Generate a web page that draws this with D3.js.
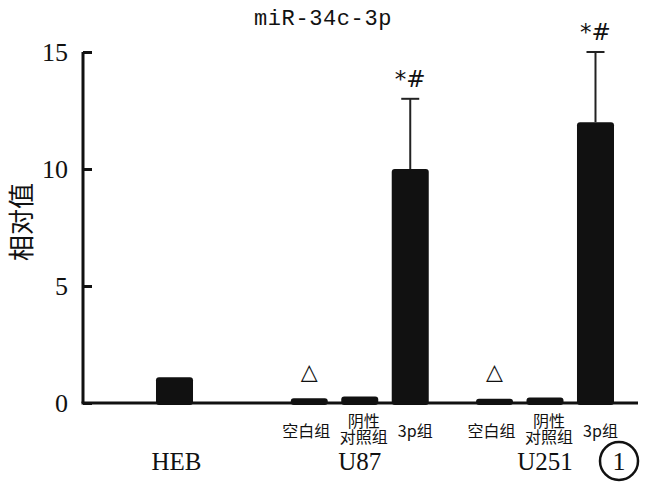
<!DOCTYPE html>
<html>
<head>
<meta charset="utf-8">
<script src="https://cdn.jsdelivr.net/npm/d3@7"></script>
<style>
  body { margin: 0; background: #fff; }
  text { fill: #111; }
</style>
</head>
<body>
<div id="chart"></div>
<script>
// chart data
const groups = ["HEB", "U87", "U251"];
const subgroups = ["空白组", "阴性对照组", "3p组"];
const barGroups = ["HEB", "U87", "U87", "U87", "U251", "U251", "U251"];
const barSubs = ["", "空白组", "阴性对照组", "3p组", "空白组", "阴性对照组", "3p组"];
const barValues = [1.1, 0.2, 0.28, 10, 0.18, 0.24, 12];
const barErrors = [0, 0, 0, 3, 0, 0, 3];
const barMarks = ["", "△", "", "*#", "△", "", "*#"];
const yTicks = [0, 5, 10, 15];

const width = 647, height = 496;
const margin = { top: 52, left: 83, right: 9, bottom: 93 };

const svg = d3.select("#chart")
    .append("svg")
    .attr("width", width)
    .attr("height", height);

const yScale = d3.scaleLinear().domain([0, 15]).range([height - margin.bottom, margin.top]);
const xOuter = d3.scalePoint().domain(groups).range([174.5, 545]);
const xInner = d3.scaleBand().domain(subgroups).range([-69, 69]).paddingInner(0.267);
const bw = xInner.bandwidth();

function barCenter(i) {
    const c = xOuter(barGroups[i]);
    return barSubs[i] ? c + xInner(barSubs[i]) + bw / 2 : c;
}

const bars = barValues.map((v, i) => ({ v, i }));

// bars
svg.selectAll(".bar")
    .data(bars)
    .enter().append("rect")
    .attr("class", "bar")
    .attr("x", d => barCenter(d.i) - bw / 2)
    .attr("width", bw)
    .attr("y", d => yScale(d.v))
    .attr("height", d => yScale(0) - yScale(d.v) + 2)
    .attr("rx", 3)
    .attr("fill", "#111");

// error bars
const errs = bars.filter(d => barErrors[d.i] > 0);
svg.selectAll(".err")
    .data(errs)
    .enter().append("line")
    .attr("x1", d => barCenter(d.i))
    .attr("x2", d => barCenter(d.i))
    .attr("y1", d => yScale(d.v))
    .attr("y2", d => yScale(d.v + barErrors[d.i]))
    .attr("stroke", "#222")
    .attr("stroke-width", 2);
svg.selectAll(".cap")
    .data(errs)
    .enter().append("line")
    .attr("x1", d => barCenter(d.i) - 9)
    .attr("x2", d => barCenter(d.i) + 9)
    .attr("y1", d => yScale(d.v + barErrors[d.i]))
    .attr("y2", d => yScale(d.v + barErrors[d.i]))
    .attr("stroke", "#222")
    .attr("stroke-width", 2);

// significance marks
svg.selectAll(".mark")
    .data(bars.filter(d => barMarks[d.i]))
    .enter().append("text")
    .attr("x", d => barCenter(d.i))
    .attr("y", d => barMarks[d.i] === "△" ? 379 : yScale(d.v + barErrors[d.i]) - 12)
    .attr("text-anchor", "middle")
    .style("font-family", "'DejaVu Sans', sans-serif")
    .style("font-size", d => barMarks[d.i] === "△" ? "22px" : "23px")
    .text(d => barMarks[d.i]);

// axes
const yAxis = svg.append("g")
    .attr("transform", `translate(${margin.left},0)`)
    .call(d3.axisRight(yScale).tickValues(yTicks).tickSize(9).tickFormat(""));
yAxis.select(".domain").attr("d", `M0,${yScale(15)}V${yScale(0)}`).attr("stroke", "#111").attr("stroke-width", 3);
yAxis.selectAll(".tick line").attr("stroke", "#111").attr("stroke-width", 3);

svg.selectAll(".ylab")
    .data(yTicks)
    .enter().append("text")
    .attr("x", 68)
    .attr("y", d => yScale(d) + 9)
    .attr("text-anchor", "end")
    .style("font-family", "'Liberation Serif', 'Times New Roman', serif")
    .style("font-size", "26px")
    .text(d => d);

svg.append("line")
    .attr("x1", margin.left - 1.5)
    .attr("x2", 638)
    .attr("y1", yScale(0))
    .attr("y2", yScale(0))
    .attr("stroke", "#111")
    .attr("stroke-width", 3);

// subgroup labels
const subLabels = bars.filter(d => barSubs[d.i]);
subLabels.forEach(d => {
    const s = barSubs[d.i];
    const x = barCenter(d.i);
    const t = svg.append("text")
        .attr("text-anchor", "middle")
        .style("font-family", "'Noto Sans CJK SC', sans-serif")
        .style("font-size", "16px");
    if (s === "阴性对照组") {
        t.append("tspan").attr("x", x + 4).attr("y", 427).text("阴性");
        t.append("tspan").attr("x", x + 4).attr("y", 443).text("对照组");
    } else {
        t.attr("x", x + (s === "空白组" ? -3 : 5)).attr("y", 437).text(s);
    }
});

// group labels
svg.selectAll(".glab")
    .data(groups)
    .enter().append("text")
    .attr("x", d => xOuter(d) + (d === "HEB" ? 2 : 0))
    .attr("y", 470)
    .attr("text-anchor", "middle")
    .style("font-family", "'Liberation Serif', 'Times New Roman', serif")
    .style("font-size", "25px")
    .text(d => d);

// circled panel number
svg.append("circle")
    .attr("cx", 619).attr("cy", 461).attr("r", 19)
    .attr("fill", "none").attr("stroke", "#111").attr("stroke-width", 2.5);
svg.append("text")
    .attr("x", 619).attr("y", 470)
    .attr("text-anchor", "middle")
    .style("font-family", "'Liberation Serif', 'Times New Roman', serif")
    .style("font-size", "26px")
    .text("1");

// y title
svg.append("text")
    .attr("transform", "translate(31,222) rotate(-90)")
    .attr("text-anchor", "middle")
    .style("font-family", "'Noto Sans CJK SC', sans-serif")
    .style("font-size", "26px")
    .text("相对值");

// title
svg.append("text")
    .attr("x", 323)
    .attr("y", 25)
    .attr("text-anchor", "middle")
    .style("font-family", "'Liberation Mono', monospace")
    .style("font-size", "22px")
    .style("letter-spacing", "0.6px")
    .text("miR-34c-3p");
</script>
</body>
</html>
